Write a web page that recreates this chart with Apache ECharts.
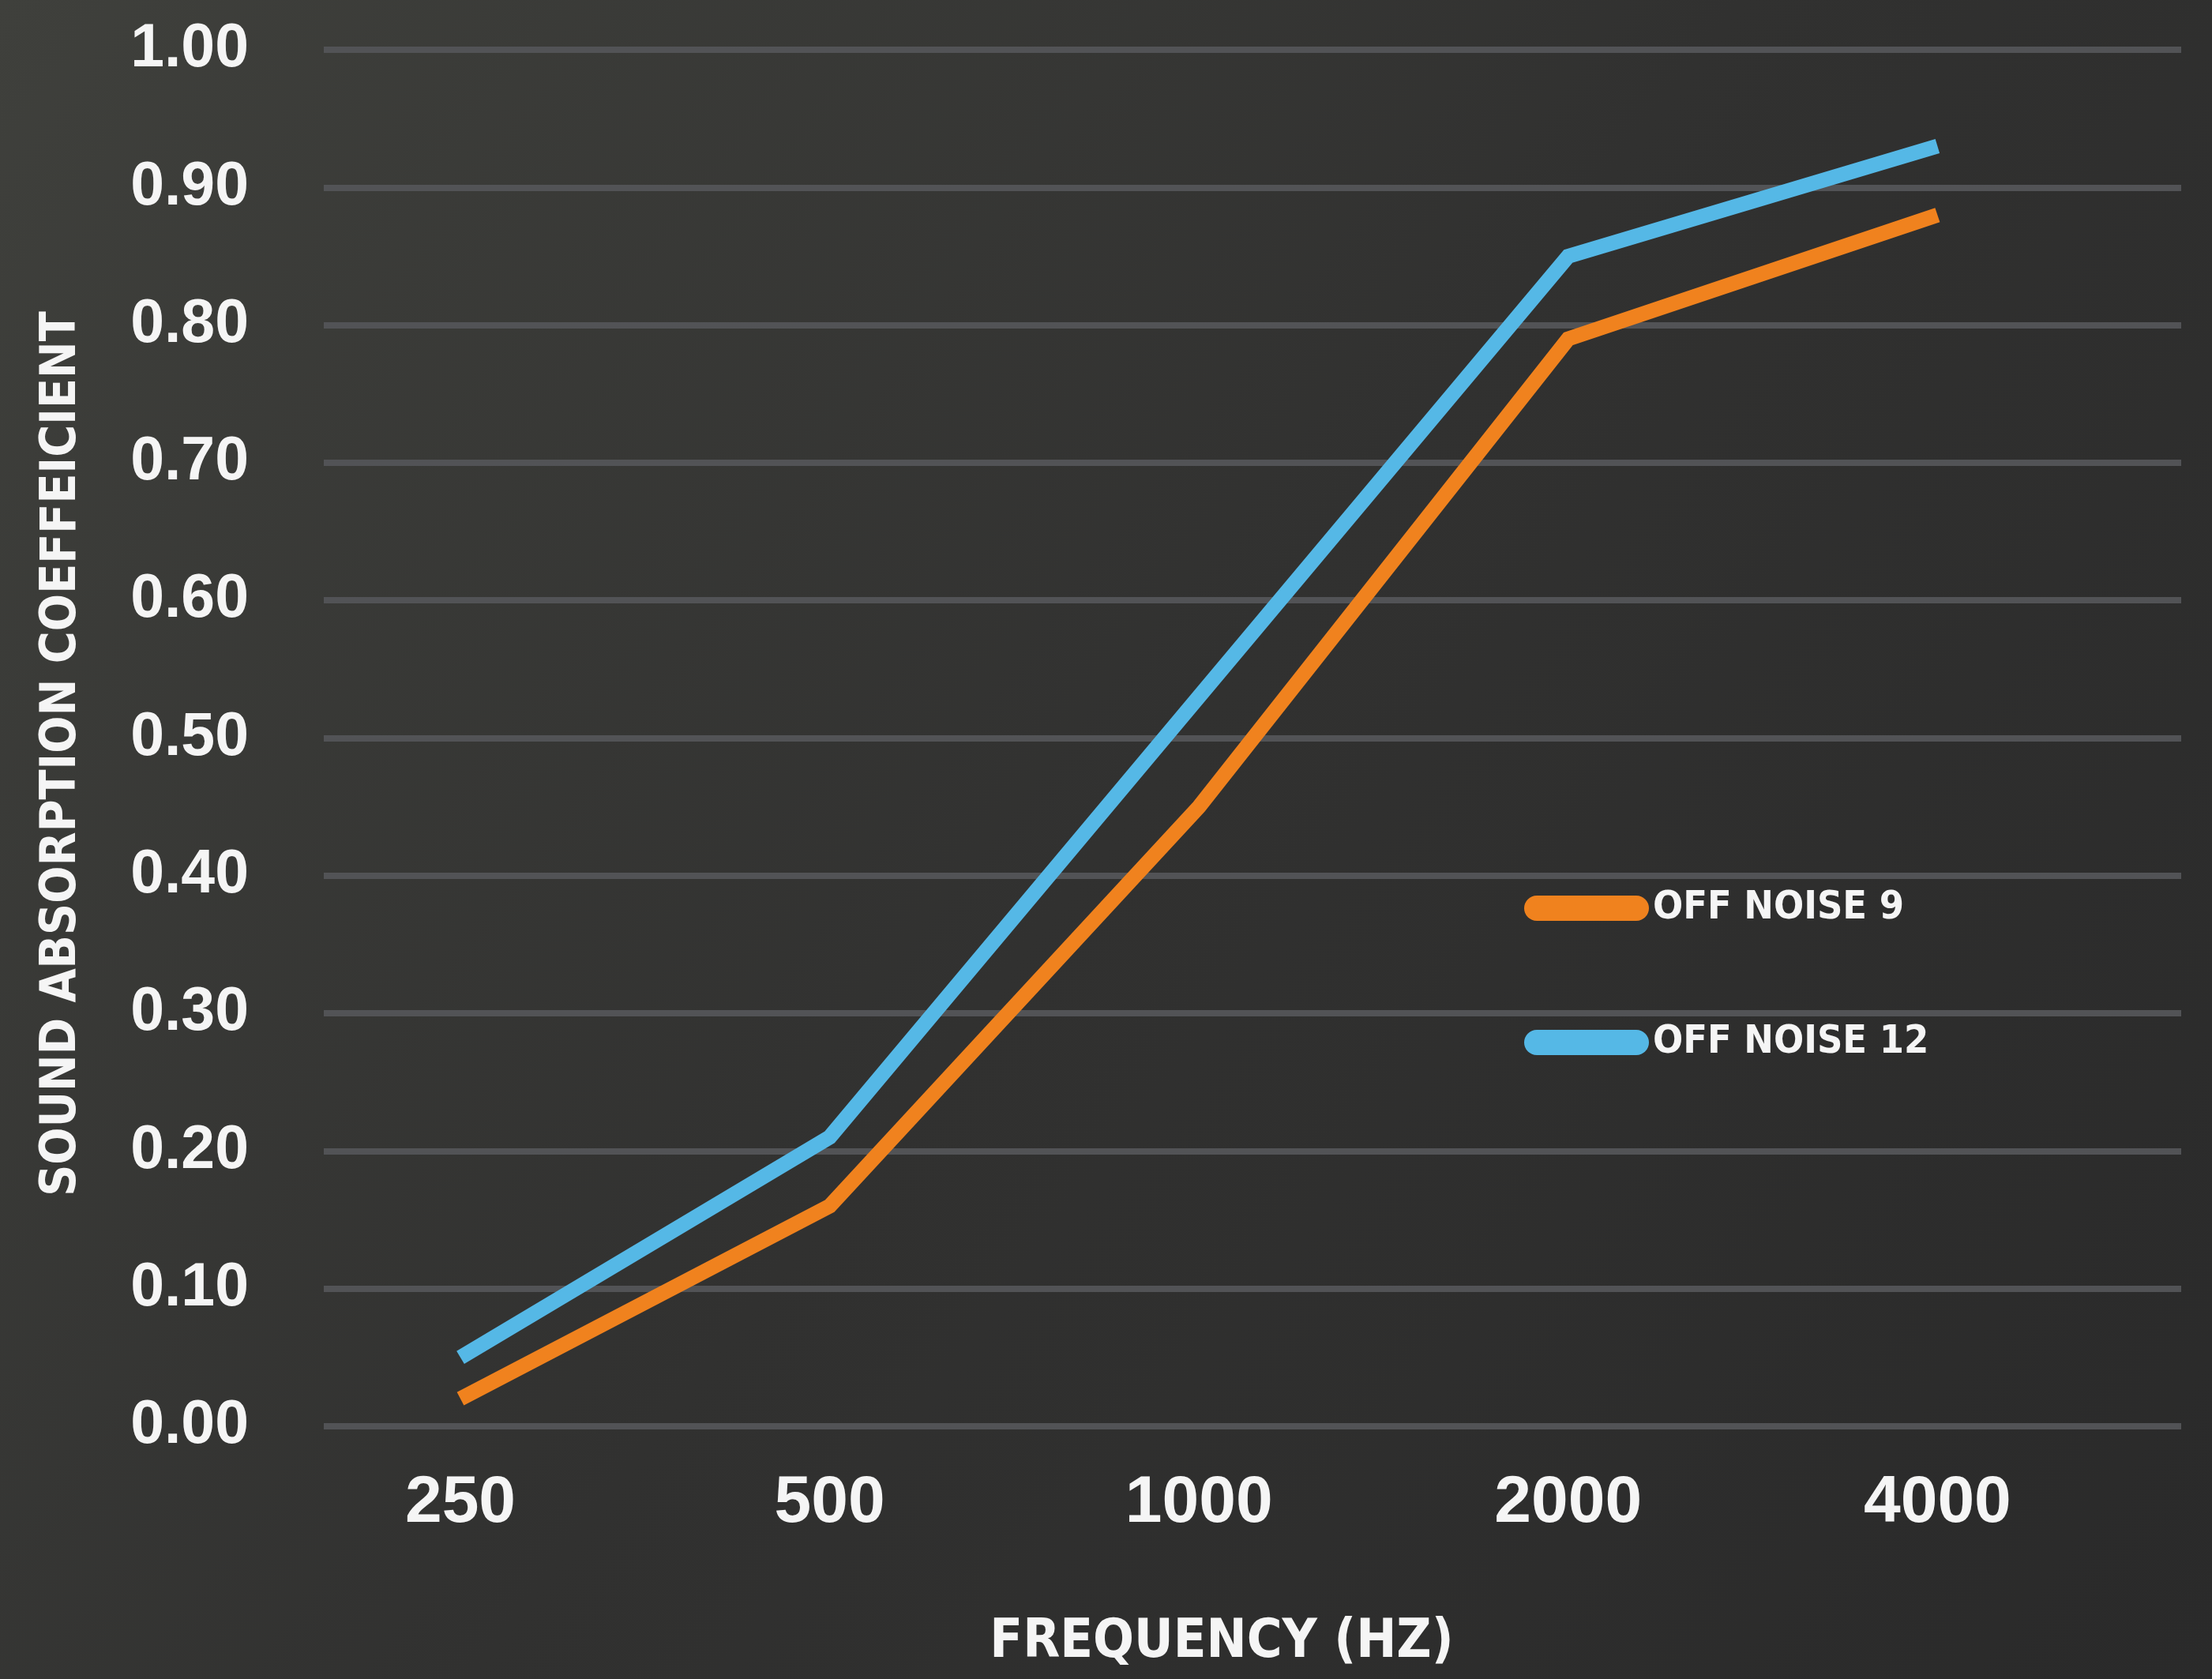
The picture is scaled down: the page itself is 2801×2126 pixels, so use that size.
<!DOCTYPE html>
<html>
<head>
<meta charset="utf-8">
<script src="https://cdn.jsdelivr.net/npm/echarts@6/dist/echarts.min.js"></script>
<style>
html,body{margin:0;padding:0;background:#333331;}
#chart{width:2801px;height:2126px;}
</style>
</head>
<body>
<div id="chart"></div>
<script>
const categories = ['250', '500', '1000', '2000', '4000'];
const offNoise9 = [0.02, 0.16, 0.45, 0.79, 0.88];
const offNoise12 = [0.05, 0.21, 0.53, 0.85, 0.93];
const seriesNames = ['OFF NOISE 9', 'OFF NOISE 12'];

const condensed = "'Liberation Sans Narrow', 'DejaVu Sans Condensed', 'Liberation Sans', sans-serif";
const toPairs = arr => arr.map((v, i) => [i, v]);
const pill = 'path://M16,0 H142 A16,16 0 0 1 142,32 H16 A16,16 0 0 1 16,0 Z';

const legendText = { color: '#f5f5f5', fontFamily: condensed, fontWeight: 'bold', fontSize: 50, lineHeight: 56 };

const chart = echarts.init(document.getElementById('chart'));
chart.setOption({
  backgroundColor: {
    type: 'linear', x: 0, y: 0, x2: 1, y2: 1,
    colorStops: [
      { offset: 0, color: '#3f403c' },
      { offset: 0.5, color: '#313130' },
      { offset: 1, color: '#2a2a2a' }
    ]
  },
  animation: false,
  grid: { left: 410, right: 39, top: 63, bottom: 320, containLabel: false },
  legend: [
    {
      data: [seriesNames[0]], left: 1925, top: 1117, orient: 'vertical',
      icon: pill, itemWidth: 158, itemHeight: 32, itemGap: 0,
      textStyle: legendText, selectedMode: false
    },
    {
      data: [seriesNames[1]], left: 1925, top: 1287, orient: 'vertical',
      icon: pill, itemWidth: 158, itemHeight: 32, itemGap: 0,
      textStyle: legendText, selectedMode: false
    }
  ],
  xAxis: {
    type: 'value',
    min: -0.37,
    max: 4.66,
    axisLine: { show: false },
    axisTick: { show: false },
    splitLine: { show: false },
    axisLabel: {
      customValues: categories.map((c, i) => i),
      formatter: v => categories[Math.round(v)],
      color: '#f5f5f5',
      fontFamily: "'Liberation Sans', Arial, sans-serif",
      fontWeight: 'bold',
      fontSize: 84,
      margin: 56
    },
    name: 'FREQUENCY (HZ)',
    nameLocation: 'middle',
    nameGap: 240,
    nameTextStyle: {
      color: '#f5f5f5', fontFamily: condensed, fontWeight: 'bold', fontSize: 68,
      padding: [0, 78, 0, 0]
    }
  },
  yAxis: {
    type: 'value',
    min: 0,
    max: 1,
    interval: 0.1,
    axisLine: { show: false },
    axisTick: { show: false },
    splitLine: { show: true, lineStyle: { color: '#525356', width: 8 } },
    axisLabel: {
      formatter: v => v.toFixed(2),
      color: '#f5f5f5',
      fontFamily: "'Liberation Sans', Arial, sans-serif",
      fontWeight: 'bold',
      fontSize: 77,
      margin: 95
    },
    name: 'SOUND ABSORPTION COEFFEICIENT',
    nameLocation: 'middle',
    nameGap: 300,
    nameTextStyle: {
      color: '#f5f5f5', fontFamily: condensed, fontWeight: 'bold', fontSize: 62,
      padding: [0, 40, 0, 0]
    }
  },
  series: [
    {
      name: seriesNames[0], type: 'line', data: toPairs(offNoise9),
      symbol: 'none', color: '#f0821e',
      lineStyle: { width: 19, color: '#f0821e', cap: 'butt', join: 'miter' }
    },
    {
      name: seriesNames[1], type: 'line', data: toPairs(offNoise12),
      symbol: 'none', color: '#55b8e6',
      lineStyle: { width: 19, color: '#55b8e6', cap: 'butt', join: 'miter' }
    }
  ]
});
</script>
</body>
</html>
